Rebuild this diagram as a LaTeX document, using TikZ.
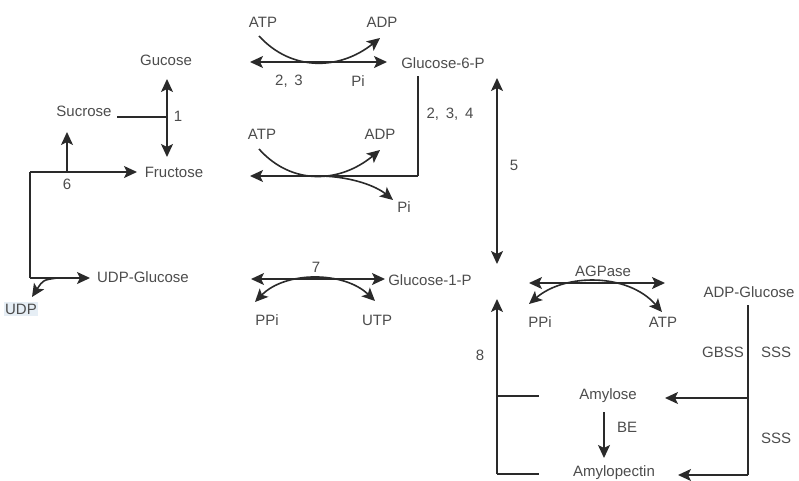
\documentclass[tikz,border=0pt]{standalone}
\usepackage{fontspec}
\setmainfont{Liberation Sans}
\usetikzlibrary{arrows.meta}
\definecolor{txt}{HTML}{4C4C4C}
\definecolor{ln}{HTML}{2A2A2A}
\definecolor{hl}{HTML}{E6EEF5}
\begin{document}
\begin{tikzpicture}[x=1pt,y=-1pt,
 lbl/.style={text=txt,font=\fontsize{15}{17}\selectfont,inner sep=0pt},
 tip/.tip={Stealth[length=13pt,width=12pt,inset=3pt]},
 ar/.style={draw=ln,line width=1.6pt,-tip},
 dar/.style={draw=ln,line width=1.6pt,tip-tip},
 pl/.style={draw=ln,line width=1.6pt}]
\useasboundingbox (0,0) rectangle (799,480);
% main metabolites
\node[lbl] (guc) at (166,60) {Gucose};
\node[lbl] (suc) at (84,111) {Sucrose};
\node[lbl] (fru) at (174,172) {Fructose};
\node[lbl] (udpg) at (143,277) {UDP-Glucose};
\node[lbl,fill=hl,inner sep=1.5pt] (udp) at (21,309) {UDP};
\node[lbl] (g6p) at (443,63) {Glucose-6-P};
\node[lbl] (g1p) at (430,280) {Glucose-1-P};
\node[lbl] (adpg) at (749,292) {ADP-Glucose};
\node[lbl] (amy) at (608,396) {Amylose};
\node[lbl] (amp) at (614,473) {Amylopectin};
% small labels
\node[lbl] (atp1) at (263,22) {ATP};
\node[lbl] (adp1) at (382,22) {ADP};
\node[lbl] (n23) at (289,81) {2,\, 3};
\node[lbl] (pi1) at (358,81) {Pi};
\node[lbl] (atp2) at (262,134) {ATP};
\node[lbl] (adp2) at (380,134) {ADP};
\node[lbl] (pi2) at (404,207) {Pi};
\node[lbl] (n234) at (450,114) {2,\, 3,\, 4};
\node[lbl] (n1) at (178,116) {1};
\node[lbl] (n6) at (67,184) {6};
\node[lbl] (n5) at (514,165) {5};
\node[lbl] (n7) at (316,267) {7};
\node[lbl] (ppi1) at (267,320) {PPi};
\node[lbl] (utp) at (377,320) {UTP};
\node[lbl] (agp) at (603,271) {AGPase};
\node[lbl] (ppi2) at (540,322) {PPi};
\node[lbl] (atp3) at (663,322) {ATP};
\node[lbl] (n8) at (480,355) {8};
\node[lbl] (gbss) at (723,352) {GBSS};
\node[lbl] (sss1) at (776,352) {SSS};
\node[lbl] (sss2) at (776,438) {SSS};
\node[lbl] (be) at (627,427) {BE};
% coordinates
\coordinate (c1a) at (167,79);
\coordinate (c1b) at (167,157);
\coordinate (j1) at (167,117);
\coordinate (s1) at (117,117);
\coordinate (cf) at (30,172);
\coordinate (j6) at (67,172);
\coordinate (s6) at (67,132);
\coordinate (fe) at (137,172);
\coordinate (cu) at (30,278);
\coordinate (ue) at (90,278);
\coordinate (u1) at (57,278);
\coordinate (u2) at (32,297);
\coordinate (r1l) at (250,62);
\coordinate (r1r) at (387,62);
\coordinate (a1s) at (259,36);
\coordinate (a1e) at (380,38);
\coordinate (g6a) at (418,76);
\coordinate (g6b) at (418,176);
\coordinate (r2l) at (250,176);
\coordinate (a2s) at (259,149);
\coordinate (a2e) at (380,150);
\coordinate (p2s) at (322,176);
\coordinate (p2e) at (393,200);
\coordinate (v5a) at (497,78);
\coordinate (v5b) at (497,264);
\coordinate (r7l) at (251,279);
\coordinate (r7r) at (385,279);
\coordinate (c7l) at (255,302);
\coordinate (c7r) at (375,301);
\coordinate (agl) at (529,283);
\coordinate (agr) at (665,283);
\coordinate (cal) at (529,304);
\coordinate (car) at (662,312);
\coordinate (v8t) at (497,299);
\coordinate (v8b) at (497,474);
\coordinate (h8a) at (497,396);
\coordinate (e8a) at (539,396);
\coordinate (e8b) at (539,474);
\coordinate (rt) at (748,305);
\coordinate (rb) at (748,475);
\coordinate (rm) at (748,398);
\coordinate (amyt) at (665,398);
\coordinate (ampt) at (678,475);
\coordinate (bea) at (604,412);
\coordinate (beb) at (604,458);
% connectors
\draw[dar] (c1a) -- (c1b);
\draw[pl] (s1) -- (j1);
\draw[ar] (cf) -- (fe);
\draw[ar] (j6) -- (s6);
\draw[pl] (cf) -- (cu);
\draw[ar] (cu) -- (ue);
\draw[ar] (u1) .. controls (43,280) .. (u2);
\draw[dar] (r1l) -- (r1r);
\draw[ar] (a1s) .. controls (292,72) and (340,70) .. (a1e);
\draw[pl] (g6a) -- (g6b);
\draw[ar] (g6b) -- (r2l);
\draw[ar] (a2s) .. controls (292,186) and (340,183) .. (a2e);
\draw[ar] (p2s) .. controls (352,177) and (376,186) .. (p2e);
\draw[dar] (v5a) -- (v5b);
\draw[dar] (r7l) -- (r7r);
\draw[dar] (c7l) .. controls (285,271) and (344,271) .. (c7r);
\draw[dar] (agl) -- (agr);
\draw[dar] (cal) .. controls (565,273) and (628,273) .. (car);
\draw[ar] (v8b) -- (v8t);
\draw[pl] (h8a) -- (e8a);
\draw[pl] (v8b) -- (e8b);
\draw[pl] (rt) -- (rb);
\draw[ar] (rm) -- (amyt);
\draw[ar] (rb) -- (ampt);
\draw[ar] (bea) -- (beb);
\end{tikzpicture}
\end{document}
